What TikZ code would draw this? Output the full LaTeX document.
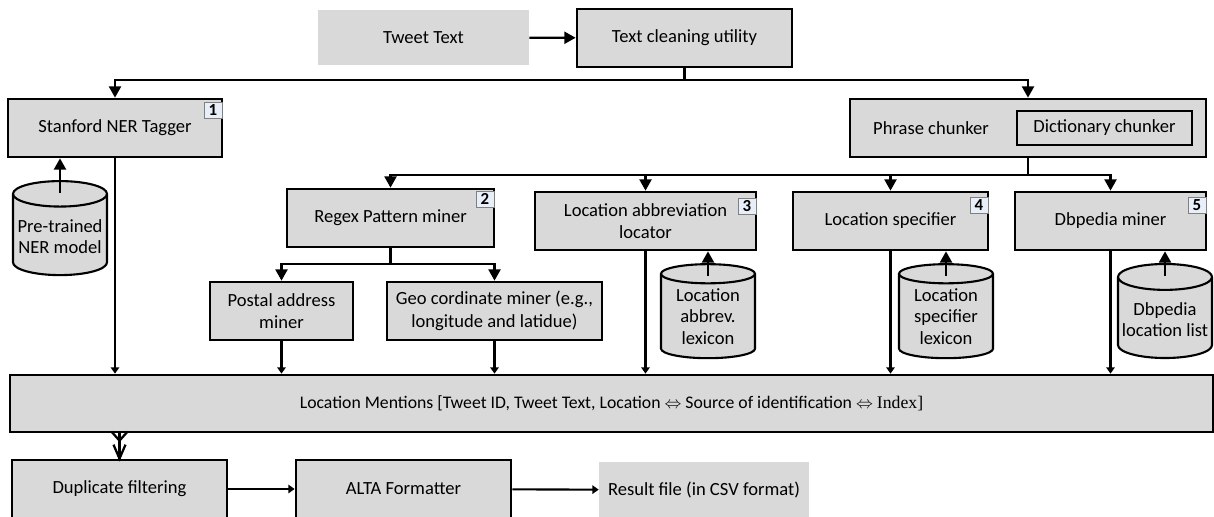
\documentclass[tikz,border=0pt]{standalone}
\usepackage{amsmath}
\usepackage{amssymb}
\usepackage{fontspec}
\setmainfont{Carlito}
\newfontfamily\serifidx{Liberation Serif}
\usepackage{tikz}
\usetikzlibrary{shapes.geometric,arrows.meta,calc}

\definecolor{boxgray}{HTML}{D9D9D9}
\definecolor{badgefill}{HTML}{E9EFF8}

\tikzset{
	box/.style={draw, line width=1.9pt, fill=boxgray, align=center, inner sep=2pt,
		minimum height=1.45cm, font=\fontsize{13.2}{16}\selectfont},
	plain/.style={fill=boxgray, align=center, font=\fontsize{13.2}{16}\selectfont},
	store/.style={cylinder, shape border rotate=90, aspect=0.3, draw, line width=1.5pt,
		fill=boxgray, align=center, inner sep=0pt, minimum width=2.35cm, minimum height=2.35cm,
		font=\fontsize{13.2}{15.5}\selectfont},
	badge/.style={draw=gray, line width=0.6pt, fill=badgefill, inner sep=0pt,
		minimum width=0.45cm, minimum height=0.4cm, font=\bfseries\fontsize{12}{12}\selectfont},
	link/.style={line width=1.6pt},
	arr/.style={line width=1.6pt, -{Triangle[length=8pt,width=8.5pt]}},
	arrs/.style={line width=1.5pt, -{Triangle[length=4.5pt,width=6pt]}},
	barb/.style={line width=1.6pt, line join=miter}
}

\begin{document}
\begin{tikzpicture}[x=0.025cm, y=-0.025cm]
	
	\useasboundingbox (0,0) rectangle (1214,517);
	
	% input
	\node[plain, minimum width=5.275cm, minimum height=1.375cm] (tweet) at (423.5,37.5) {Tweet Text};
	\node[box, minimum width=5.375cm] (clean) at (684.5,38) {Text cleaning utility};
	
	% first level
	\node[box, minimum width=5.35cm] (stanford) at (115,128) {Stanford NER Tagger};
	\node[box, minimum width=8.9cm] (phrase) at (1028,128) {};
	\node[font=\fontsize{13.2}{16}\selectfont] (phrasetxt) at (931,128) {Phrase chunker};
	\node[box, line width=1.7pt, minimum width=4.375cm, minimum height=0.85cm] (dict) at (1104.5,128) {Dictionary chunker};
	\node[store] (nermodel) at (60,235) {\\[-4pt]Pre-trained\\NER model};
	
	% miners
	\node[box, minimum width=5.175cm] (regex) at (390.5,218) {Regex Pattern miner};
	\node[box, minimum width=5.525cm] (abbr) at (645.5,221) {Location abbreviation\\locator};
	\node[box, minimum width=4.875cm] (spec) at (890.5,221) {Location specifier};
	\node[box, minimum width=4.775cm] (dbp) at (1110.5,221) {Dbpedia miner};
	\node[box, minimum width=3.575cm] (postal) at (281.5,311) {Postal address\\miner};
	\node[box, minimum width=5.375cm] (geo) at (494.5,311) {Geo cordinate miner (e.g.,\\longitude and latidue)};
	
	\node[store] (abbrlex) at (708,316.5) {Location\\abbrev.\\lexicon};
	\node[store] (speclex) at (946,316.5) {Location\\specifier\\lexicon};
	\node[store] (dbplist) at (1165,318) {\\[-4pt]Dbpedia\\location list};
	
	% numbers
	\node[badge, anchor=north east] (n1) at ($(stanford.north east)+(-1,4)$) {1};
	\node[badge, anchor=north east] (n2) at ($(regex.north east)+(-1,3)$) {2};
	\node[badge, anchor=north east] (n3) at ($(abbr.north east)+(-1,7)$) {3};
	\node[badge, anchor=north east] (n4) at ($(spec.north east)+(-1,6)$) {4};
	\node[badge, anchor=north east] (n5) at ($(dbp.north east)+(-1,6)$) {5};
	
	% output
	\node[box, minimum width=30.075cm, minimum height=1.425cm, font=\fontsize{12.6}{15}\selectfont] (mentions) at (611.5,403.5)
		{Location Mentions [Tweet ID, Tweet Text, Location $\Leftrightarrow$ Source of identification $\Leftrightarrow$ {\serifidx Index]}};
	\node[box, minimum width=5.375cm] (dup) at (119.5,489) {Duplicate filtering};
	\node[box, minimum width=5.375cm] (alta) at (403.5,489) {ALTA Formatter};
	\node[plain, minimum width=5.25cm, minimum height=1.4cm] (result) at (704,490) {Result file (in CSV format)};
	
	\coordinate (split1) at (684.5,80);
	\coordinate (split2) at (1028,175);
	\coordinate (split3) at (390.5,264);
	
	\draw[arr] (tweet) -- (clean);
	\draw[link] (clean.south) -- (split1);
	\draw[arr] (split1) -| (stanford.north);
	\draw[arr] (split1) -| (phrase.north);
	
	\draw[link] (phrase.south) -- (split2);
	\draw[arr] (split2) -| (regex.north);
	\draw[arr] (split2) -| (abbr.north);
	\draw[arr] (split2) -| (spec.north);
	\draw[arr] (split2) -| (dbp.north);
	
	\draw[link] (regex.south) -- (split3);
	\draw[arr] (split3) -| (postal.north);
	\draw[arr] (split3) -| (geo.north);
	
	\draw[arr] ($(nermodel.north)+(0,13)$) -- (nermodel.north |- stanford.south);
	\draw[arr] ($(abbrlex.north)+(0,13)$) -- (abbrlex.north |- abbr.south);
	\draw[arr] ($(speclex.north)+(0,13)$) -- (speclex.north |- spec.south);
	\draw[arr] ($(dbplist.north)+(0,13)$) -- (dbplist.north |- dbp.south);
	
	\foreach \src in {stanford,postal,geo,abbr,spec,dbp}
		\draw[arrs] (\src.south) -- (\src.south |- mentions.north);
	
	% double barb into duplicate filtering
	\draw[link] (dup.north |- mentions.south) -- (dup.north);
	\draw[barb] ($(dup.north)+(-8,-27)$) -- ($(dup.north)+(0,-18)$) -- ($(dup.north)+(8,-27)$);
	\draw[barb] ($(dup.north)+(-6,-14)$) -- (dup.north) -- ($(dup.north)+(6,-14)$);
	\draw[arrs] (dup) -- (alta);
	\draw[arrs] (alta) -- (result);
	
\end{tikzpicture}
\end{document}
